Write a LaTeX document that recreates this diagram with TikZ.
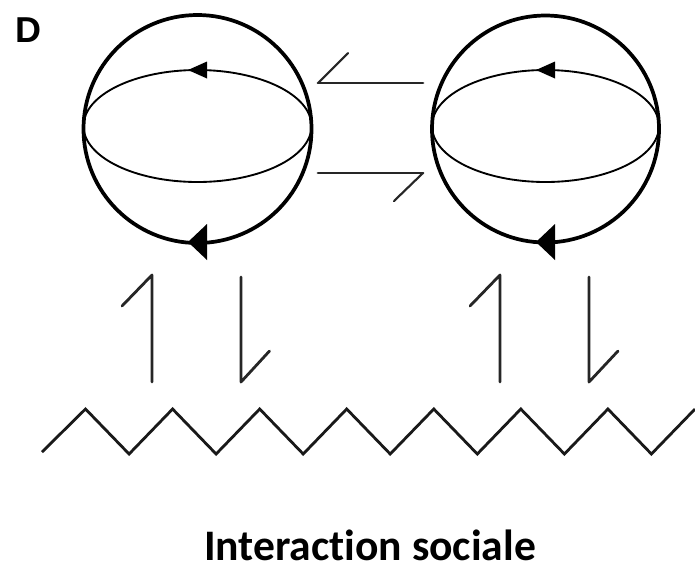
\documentclass[tikz,border=0pt]{standalone}
\usepackage{fontspec}
\newfontfamily\labelfont{Liberation Sans}
\newfontfamily\captionfont[Ligatures=NoCommon]{Carlito}
\usepackage{tikz}

\tikzset{
  sphere/.style={line width=2.8pt},
  orbit/.style={line width=1.4pt},
  harpoon/.style={line width=2.1pt, black!85, line cap=round, line join=round},
  barb/.style={line width=1.6pt, black!85, line cap=round},
  chain/.style={line width=2.1pt, black!90, line join=miter}
}

\begin{document}
\begin{tikzpicture}[x=0.75pt, y=-0.75pt]
  \useasboundingbox (0,0) rectangle (695,569);

  % Panel letter
  \node[anchor=base west, inner sep=0pt] (panel) at (15,42) {\labelfont\bfseries\fontsize{27pt}{27pt}\selectfont D};

  % Left sphere
  \draw[sphere] (197.5,129) circle[radius=114];
  \draw[orbit] (197.5,126) ellipse[x radius=114, y radius=56];
  \fill (188,70) -- (207,61.5) -- (207,78.5) -- cycle;
  \fill (188,242) -- (207,224) -- (207,260) -- cycle;

  % Right sphere
  \draw[sphere] (545.5,129) circle[radius=113.5];
  \draw[orbit] (545.5,126) ellipse[x radius=113.5, y radius=56];
  \fill (536,70) -- (555,61.5) -- (555,78.5) -- cycle;
  \fill (536,242) -- (555,224) -- (555,260) -- cycle;

  % Harpoons between the spheres
  \draw[harpoon] (318,83) -- (423,83);
  \draw[barb] (348,53) -- (318,83);
  \draw[harpoon] (318,173) -- (423,173);
  \draw[barb] (423,173) -- (394,201);

  % Harpoons down to the chain
  \draw[harpoon] (122,306) -- (152,275) -- (152,382);
  \draw[harpoon] (241,277) -- (241,382) -- (269.5,351);
  \draw[harpoon] (470,306) -- (500,275) -- (500,382);
  \draw[harpoon] (589,277) -- (589,382) -- (618,351);

  % Zigzag chain
  \draw[chain] (42,452) -- (85.5,409) -- (129.1,454) -- (172.6,409) -- (216.1,454)
    -- (259.7,409) -- (303.2,454) -- (346.7,409) -- (390.2,454) -- (433.8,409)
    -- (477.3,454) -- (520.8,409) -- (564.4,454) -- (607.9,409) -- (651.4,454)
    -- (695,409);

  % Caption
  \node[anchor=base, inner sep=0pt] (caption) at (370,560) {\captionfont\bfseries\fontsize{32.7pt}{33pt}\selectfont Interaction sociale};
\end{tikzpicture}
\end{document}
